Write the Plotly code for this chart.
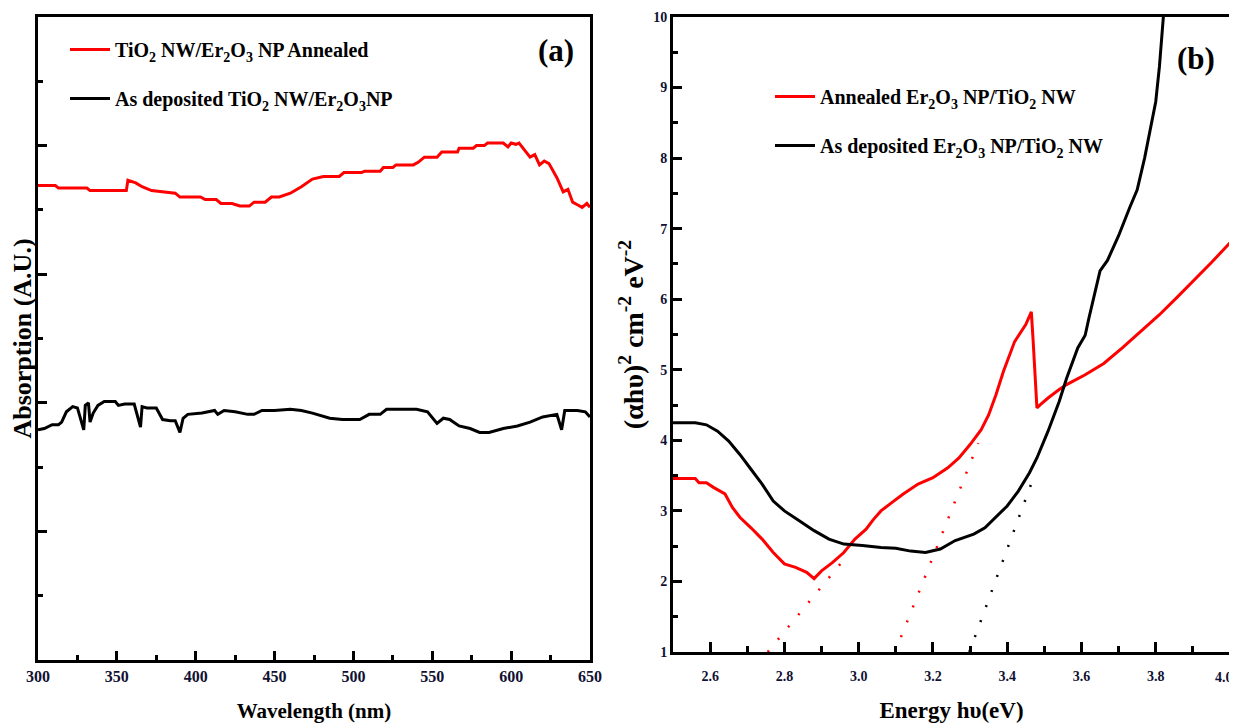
import plotly.graph_objects as go

# ---------------- Panel (a) data: absorption vs wavelength ----------------
wl_annealed = [300, 311, 313, 331, 333, 356, 357, 359, 362, 366, 372, 387, 390, 403, 406, 413,
               416, 423, 428, 434, 437, 444, 448, 453, 460, 467, 474, 481, 491, 494, 505, 507,
               517, 519, 525, 527, 538, 541, 545, 553, 556, 566, 567, 576, 578, 583, 585, 595,
               598, 600, 603, 605, 607, 612, 615, 618, 621, 624, 629, 633, 636, 639, 642, 645,
               648, 650]
abs_annealed = [3.69, 3.69, 3.67, 3.67, 3.65, 3.65, 3.73, 3.72, 3.71, 3.68, 3.65, 3.63, 3.60, 3.60, 3.58, 3.58,
                3.55, 3.55, 3.53, 3.53, 3.56, 3.56, 3.60, 3.60, 3.63, 3.68, 3.74, 3.76, 3.76, 3.79, 3.79, 3.80,
                3.80, 3.83, 3.83, 3.85, 3.85, 3.87, 3.91, 3.91, 3.95, 3.95, 3.98, 3.98, 4.00, 4.00, 4.02, 4.02,
                3.99, 4.02, 4.01, 4.02, 3.99, 3.91, 3.93, 3.85, 3.88, 3.86, 3.75, 3.64, 3.66, 3.56, 3.54, 3.52,
                3.55, 3.52]

wl_deposited = [300, 304, 309, 313, 315, 318, 322, 325, 329, 330, 332, 333, 335, 338, 342, 349,
                351, 355, 361, 365, 366, 369, 375, 379, 384, 387, 390, 392, 395, 404, 412, 414,
                418, 425, 433, 437, 442, 450, 460, 467, 474, 477, 485, 493, 504, 510, 517, 521,
                540, 547, 553, 557, 561, 567, 574, 580, 586, 595, 604, 612, 620, 629, 632, 634,
                642, 647, 650]
abs_deposited = [1.79, 1.80, 1.83, 1.83, 1.85, 1.93, 1.97, 1.96, 1.79, 1.98, 2.00, 1.85, 1.92, 1.98, 2.01, 2.01,
                 1.98, 1.99, 1.99, 1.81, 1.97, 1.96, 1.96, 1.87, 1.86, 1.86, 1.77, 1.88, 1.91, 1.92, 1.94, 1.91,
                 1.94, 1.93, 1.91, 1.91, 1.94, 1.94, 1.95, 1.94, 1.92, 1.91, 1.88, 1.87, 1.87, 1.91, 1.91, 1.95,
                 1.95, 1.93, 1.84, 1.88, 1.87, 1.82, 1.80, 1.77, 1.77, 1.80, 1.82, 1.85, 1.89, 1.91, 1.79, 1.94,
                 1.94, 1.93, 1.89]

# ---------------- Panel (b) data: Tauc plot ----------------
e_annealed = [2.50, 2.56, 2.57, 2.59, 2.61, 2.64, 2.66, 2.68, 2.71, 2.74, 2.77, 2.80, 2.83, 2.86, 2.88,
              2.90, 2.93, 2.96, 2.99, 3.02, 3.04, 3.06, 3.09, 3.12, 3.16, 3.20, 3.24, 3.27, 3.30, 3.33,
              3.35, 3.37, 3.39, 3.42, 3.45, 3.465, 3.47, 3.48, 3.49, 3.51, 3.54, 3.56, 3.61, 3.66, 3.71,
              3.76, 3.81, 3.86, 3.90, 3.95, 4.00]
tauc_annealed = [3.46, 3.46, 3.40, 3.40, 3.33, 3.24, 3.05, 2.91, 2.76, 2.60, 2.41, 2.25, 2.20, 2.13, 2.04,
                 2.15, 2.27, 2.41, 2.60, 2.74, 2.88, 3.00, 3.12, 3.24, 3.38, 3.47, 3.61, 3.75, 3.94, 4.15,
                 4.36, 4.65, 4.98, 5.40, 5.64, 5.82, 5.40, 4.46, 4.51, 4.60, 4.72, 4.79, 4.93, 5.09, 5.31,
                 5.54, 5.78, 6.04, 6.25, 6.52, 6.80]

e_deposited = [2.50, 2.56, 2.59, 2.62, 2.65, 2.68, 2.71, 2.74, 2.77, 2.80, 2.84, 2.88, 2.92, 2.96, 3.01,
               3.06, 3.10, 3.14, 3.18, 3.22, 3.26, 3.31, 3.34, 3.37, 3.40, 3.43, 3.46, 3.48, 3.51, 3.54,
               3.56, 3.59, 3.61, 3.62, 3.64, 3.65, 3.67, 3.70, 3.73, 3.75, 3.77, 3.79, 3.80, 3.81, 3.82,
               3.825]
tauc_deposited = [4.25, 4.25, 4.22, 4.13, 3.99, 3.80, 3.59, 3.38, 3.14, 3.00, 2.86, 2.72, 2.60, 2.53, 2.51,
                  2.48, 2.47, 2.43, 2.41, 2.46, 2.58, 2.67, 2.76, 2.91, 3.07, 3.28, 3.54, 3.75, 4.13, 4.55,
                  4.88, 5.31, 5.49, 5.73, 6.15, 6.40, 6.55, 6.90, 7.30, 7.55, 8.00, 8.50, 8.80, 9.30, 9.90,
                  10.30]

# Linear extrapolations (band-gap tangents)
tan1_e = [2.755, 2.965]
tan1_v = [1.0, 2.34]
tan2_e = [3.098, 3.322]
tan2_v = [1.0, 3.96]
tan3_e = [3.298, 3.475]
tan3_v = [1.0, 3.53]

x2_tickvals = [2.6, 2.8, 3.0, 3.2, 3.4, 3.6, 3.8, 4.0]
x2_ticktext = ["2.6", "2.8", "3.0", "3.2", "3.4", "3.6", "3.8", "4.0"]

RED = "#ff0000"
BLACK = "#000000"
SERIF = "Liberation Serif"

fig = go.Figure()

fig.add_trace(go.Scatter(x=wl_annealed, y=abs_annealed, mode="lines",
                         line=dict(color=RED, width=3),
                         name="TiO<sub>2</sub> NW/Er<sub>2</sub>O<sub>3</sub> NP Annealed",
                         legend="legend", legendgroup="a1", xaxis="x", yaxis="y"))
fig.add_trace(go.Scatter(x=wl_deposited, y=abs_deposited, mode="lines",
                         line=dict(color=BLACK, width=3),
                         name="As deposited TiO<sub>2</sub> NW/Er<sub>2</sub>O<sub>3</sub>NP",
                         legend="legend", legendgroup="a2", xaxis="x", yaxis="y"))

fig.add_trace(go.Scatter(x=e_annealed, y=tauc_annealed, mode="lines",
                         line=dict(color=RED, width=3),
                         name="Annealed Er<sub>2</sub>O<sub>3</sub> NP/TiO<sub>2</sub> NW",
                         legend="legend2", legendgroup="b1", xaxis="x2", yaxis="y2"))
fig.add_trace(go.Scatter(x=e_deposited, y=tauc_deposited, mode="lines",
                         line=dict(color=BLACK, width=3),
                         name="As deposited Er<sub>2</sub>O<sub>3</sub> NP/TiO<sub>2</sub> NW",
                         legend="legend2", legendgroup="b2", xaxis="x2", yaxis="y2"))

for ex, ev, col in [(tan1_e, tan1_v, RED), (tan2_e, tan2_v, RED), (tan3_e, tan3_v, BLACK)]:
    fig.add_trace(go.Scatter(x=ex, y=ev, mode="lines", showlegend=False,
                             line=dict(color=col, width=2.5, dash="2px,14px"),
                             xaxis="x2", yaxis="y2", hoverinfo="skip"))

# page body has an 8px margin: figure is drawn 8px in from the window edge
OFF = 8
W, H = 1237 - OFF, 726 - OFF
def px_x(p):
    return (p - OFF) / W
def px_y(p):
    return 1 - (p - OFF) / H

tickfont = dict(family=SERIF, size=16, color="#111133", weight="bold")
tickfont_b = dict(family=SERIF, size=14, color="#111133", weight="bold")
axis_common = dict(showline=True, linecolor="black", linewidth=3, mirror=True,
                   ticks="inside", tickcolor="black", tickwidth=3, showgrid=False,
                   zeroline=False)

# the last label of the energy axis sits flush with the right edge, as in the original
last_label = x2_ticktext[-1]
x2_labels_shown = x2_ticktext[:-1] + [""]

fig.update_layout(
    width=W, height=H,
    margin=dict(l=0, r=0, t=0, b=0),
    paper_bgcolor="white", plot_bgcolor="white",
    xaxis=dict(domain=[px_x(38), px_x(590)], range=[300, 650], tick0=300, dtick=50,
               ticklen=9, tickfont=tickfont, anchor="y", ticklabeloverflow="allow",
               minor=dict(ticks="inside", dtick=25, ticklen=5, tickwidth=3, tickcolor="black"),
               title=dict(text="<b>Wavelength (nm)</b>", font=dict(family=SERIF, size=21, color="black"),
                          standoff=20),
               automargin=False, **axis_common),
    yaxis=dict(domain=[px_y(660), px_y(17)], range=[0, 5], dtick=1, showticklabels=False,
               ticklen=9, anchor="x",
               minor=dict(ticks="inside", dtick=0.5, ticklen=5, tickwidth=3, tickcolor="black"),
               title=dict(text="<b>Absorption (A.U.)</b>", font=dict(family=SERIF, size=26, color="black"),
                          standoff=4),
               automargin=False, **axis_common),
    xaxis2=dict(domain=[px_x(673), px_x(1230)], range=[2.5, 4.0], tickvals=x2_tickvals,
                ticktext=x2_labels_shown,
                ticklen=10, tickfont=tickfont_b, anchor="y2", ticklabelstandoff=9,
                minor=dict(ticks="inside", tickvals=[2.7, 2.9, 3.1, 3.3, 3.5, 3.7, 3.9], ticklen=6,
                           tickwidth=3, tickcolor="black"),
                title=dict(text="<b>Energy h\u03c5(eV)</b>", font=dict(family=SERIF, size=23, color="black"),
                           standoff=20),
                automargin=False, **axis_common),
    yaxis2=dict(domain=[px_y(652), px_y(17)], range=[1, 10], dtick=1, ticklen=9,
                tickfont=tickfont_b, anchor="x2",
                minor=dict(ticks="inside", dtick=0.5, ticklen=5, tickwidth=3, tickcolor="black"),
                title=dict(text="<b>(\u03b1h\u03c5)<sup>2</sup> cm<sup>-2</sup> eV<sup>-2</sup></b>",
                           font=dict(family=SERIF, size=28, color="black"), standoff=2),
                automargin=False, **axis_common),
    legend=dict(x=px_x(65), y=px_y(30), xanchor="left", yanchor="top",
                bgcolor="rgba(0,0,0,0)", borderwidth=0, tracegroupgap=20,
                font=dict(family=SERIF, size=20, color="black", weight="bold"),
                itemwidth=40),
    legend2=dict(x=px_x(770), y=px_y(77), xanchor="left", yanchor="top",
                 bgcolor="rgba(0,0,0,0)", borderwidth=0, tracegroupgap=20,
                 font=dict(family=SERIF, size=20, color="black", weight="bold"),
                 itemwidth=40),
    annotations=[
        dict(text="<b>(a)</b>", x=px_x(556), y=px_y(50), xref="paper", yref="paper",
             xanchor="center", yanchor="middle",
             showarrow=False, font=dict(family=SERIF, size=31, color="black")),
        dict(text="<b>(b)</b>", x=px_x(1196), y=px_y(58), xref="paper", yref="paper",
             xanchor="center", yanchor="middle",
             showarrow=False, font=dict(family=SERIF, size=31, color="black")),
        dict(text=last_label, x=x2_tickvals[-1], xref="x2", y=px_y(677), yref="paper",
             xanchor="right", yanchor="middle", xshift=5, showarrow=False,
             font=tickfont_b),
    ],
)

fig.write_html("out.html")
